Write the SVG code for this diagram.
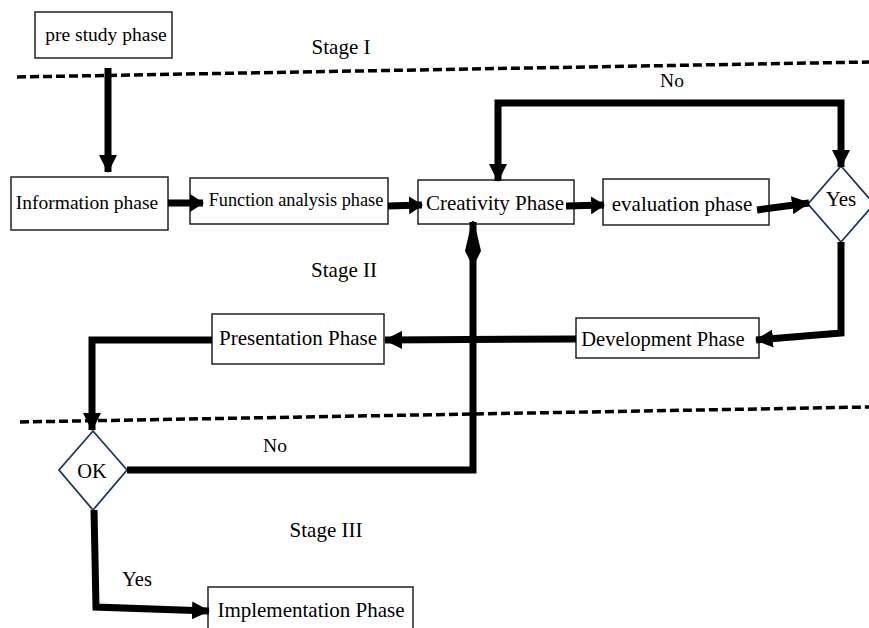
<svg xmlns="http://www.w3.org/2000/svg" width="869" height="628" viewBox="0 0 869 628">
<style>
.box{fill:#fff;stroke:#222;stroke-width:1.5}
.dia{fill:#fff;stroke:#1b3564;stroke-width:1.8}
.t{font-family:"Liberation Serif","Times New Roman",serif;fill:#000}
.c{fill:none;stroke:#000;stroke-width:7;stroke-linejoin:miter}
.dash{fill:none;stroke:#000;stroke-width:3.5;stroke-dasharray:9 4}
</style>
<defs>
<marker id="ah" markerUnits="userSpaceOnUse" markerWidth="18" markerHeight="18" refX="17" refY="9" orient="auto-start-reverse" viewBox="0 0 18 18">
<path d="M0,0 L18,9 L0,18 Z" fill="#000"/>
</marker>
<marker id="ahs" markerUnits="userSpaceOnUse" markerWidth="14" markerHeight="18" refX="13" refY="9" orient="auto" viewBox="0 0 14 18">
<path d="M0,0 L14,9 L0,18 Z" fill="#000"/>
</marker>
<marker id="ahl" markerUnits="userSpaceOnUse" markerWidth="46" markerHeight="16" refX="45" refY="8" orient="auto" viewBox="0 0 46 16">
<path d="M0,8 L16,0 L46,7 L46,9 L16,16 Z" fill="#000"/>
</marker>
</defs>
<g id="stage-lines">
<line class="dash" x1="17" y1="77" x2="869" y2="62"/>
<line class="dash" x1="20" y1="422" x2="869" y2="407"/>
</g>
<g id="stage-labels">
<text class="t" x="341" y="54" font-size="21" text-anchor="middle">Stage I</text>
<text class="t" x="344" y="277" font-size="21" text-anchor="middle">Stage II</text>
<text class="t" x="326" y="537" font-size="21" text-anchor="middle">Stage III</text>
</g>
<g id="pre-study">
<rect class="box" x="35" y="12" width="137" height="46"/>
<text class="t" x="106" y="41" font-size="19.5" text-anchor="middle">pre study phase</text>
</g>
<g id="information">
<rect class="box" x="11" y="177" width="157" height="53"/>
<text class="t" x="87" y="209" font-size="19.5" text-anchor="middle">Information phase</text>
</g>
<g id="function-analysis">
<rect class="box" x="190" y="178" width="198" height="46"/>
<text class="t" x="296" y="206" font-size="18.3" text-anchor="middle">Function analysis phase</text>
</g>
<g id="creativity">
<rect class="box" x="418" y="180" width="156" height="44"/>
<text class="t" x="495" y="210" font-size="21" text-anchor="middle">Creativity Phase</text>
</g>
<g id="evaluation">
<rect class="box" x="603" y="179" width="166" height="46"/>
<text class="t" x="682" y="211" font-size="21" text-anchor="middle">evaluation phase</text>
</g>
<g id="yes-decision">
<polygon class="dia" points="841,166 874,204 841,242 808,204"/>
<text class="t" x="841" y="206" font-size="21" text-anchor="middle">Yes</text>
</g>
<g id="development">
<rect class="box" x="576" y="318" width="183" height="40"/>
<text class="t" x="663" y="346" font-size="20.5" text-anchor="middle">Development Phase</text>
</g>
<g id="presentation">
<rect class="box" x="212" y="314" width="172" height="50"/>
<text class="t" x="298" y="345" font-size="21" text-anchor="middle">Presentation Phase</text>
</g>
<g id="ok-decision">
<polygon class="dia" points="93,431 127,470 93,510 59,470"/>
<text class="t" x="92" y="478" font-size="20.5" text-anchor="middle">OK</text>
</g>
<g id="implementation">
<rect class="box" x="208" y="587" width="205" height="50"/>
<text class="t" x="311" y="617" font-size="21" text-anchor="middle">Implementation Phase</text>
</g>
<g id="connectors">
<line class="c" x1="108" y1="68" x2="108" y2="172" marker-end="url(#ah)"/>
<line class="c" x1="168" y1="203" x2="203" y2="203" stroke-width="10" marker-end="url(#ahs)"/>
<line class="c" x1="388" y1="206" x2="422" y2="205" stroke-width="10" marker-end="url(#ahs)"/>
<line class="c" x1="566" y1="206" x2="604" y2="205" stroke-width="10" marker-end="url(#ahs)"/>
<line class="c" x1="757" y1="210" x2="809" y2="203" stroke-width="9" marker-end="url(#ah)"/>
<path class="c" d="M498,181 L498,103 L841,103 L841,167" stroke-width="6" marker-start="url(#ah)" marker-end="url(#ah)"/>
<path class="c" d="M841,242 L841,333 L756,340" stroke-width="6" marker-end="url(#ah)"/>
<line class="c" x1="576" y1="339" x2="385" y2="340" stroke-width="7" marker-end="url(#ah)"/>
<path class="c" d="M212,340 L92,340 L92,430" stroke-width="7" marker-end="url(#ah)"/>
<path class="c" d="M127,470 L473,470 L473,222" stroke-width="6" marker-end="url(#ahl)"/>
<path class="c" d="M94,510 L96,607 L209,611" stroke-width="7" marker-end="url(#ah)"/>
</g>
<g id="edge-labels">
<text class="t" x="672" y="87" font-size="19.5" text-anchor="middle">No</text>
<text class="t" x="275" y="452" font-size="19.5" text-anchor="middle">No</text>
<text class="t" x="137" y="586" font-size="20.5" text-anchor="middle">Yes</text>
</g>
</svg>
